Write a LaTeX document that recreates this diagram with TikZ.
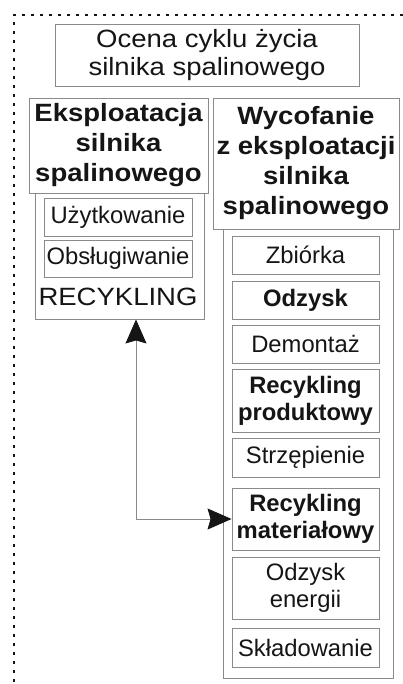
\documentclass[tikz,border=0pt]{standalone}
\usepackage{fontspec}
\setmainfont{Liberation Sans}
\newfontfamily\bigfont[FakeStretch=1.1]{Liberation Sans}
\usetikzlibrary{arrows.meta}
\definecolor{boxline}{HTML}{8A8A8A}
\definecolor{ink}{HTML}{151515}
\tikzset{
  box/.style={draw=boxline, line width=0.9pt, fill=white, inner sep=0pt, align=center, text=ink},
  bigtxt/.style={font=\bigfont\fontsize{25}{28}\selectfont},
  headtxt/.style={font=\bigfont\bfseries\fontsize{25}{30}\selectfont},
  smalltxt/.style={font=\fontsize{23.8}{27}\selectfont},
  smallbold/.style={font=\bfseries\fontsize{23.8}{27}\selectfont},
  frame/.style={draw=ink, line width=2.4pt, dash pattern=on 3pt off 6pt},
  conn/.style={draw=boxline, line width=0.9pt, {Stealth[length=24pt,width=21pt,inset=3pt,fill=ink,color=ink]}-{Stealth[length=24pt,width=21pt,inset=3pt,fill=ink,color=ink]}}
}
\begin{document}
\begin{tikzpicture}[x=1pt,y=-1pt]
\useasboundingbox (0,0) rectangle (403,684);
\coordinate (ftr) at (403,15);
\coordinate (ftl) at (14,15);
\coordinate (fbl) at (14,684);
\draw[frame] (ftr) -- (ftl) -- (fbl);

\node[box, bigtxt, minimum width=304pt, minimum height=62pt] (title) at (207,55) {Ocena cyklu życia\\silnika spalinowego};

% left
\node[box, minimum width=169pt, minimum height=126pt] (lc) at (119.5,256) {};
\node[box, headtxt, minimum width=179pt, minimum height=95pt] (lh) at (118.5,145.5) {Eksploatacja\\silnika\\spalinowego};
\node[box, smalltxt, minimum width=148pt, minimum height=38pt] (uz) at (118,217) {Użytkowanie};
\node[box, smalltxt, minimum width=148pt, minimum height=37pt] (ob) at (118,258.5) {Obsługiwanie};
\node[inner sep=0pt, text=ink, bigtxt] (rec) at (118,297) {RECYKLING};

% right
\node[box, minimum width=170pt, minimum height=449pt] (rc) at (308,453.5) {};
\node[box, headtxt, minimum width=186pt, minimum height=131pt] (rh) at (306,163.5) {Wycofanie\\z eksploatacji\\silnika\\spalinowego};
\node[box, smalltxt, minimum width=147pt, minimum height=38pt] (zb) at (305.5,255) {Zbiórka};
\node[box, smallbold, minimum width=147pt, minimum height=38pt] (od) at (305.5,300) {Odzysk};
\node[box, smalltxt, minimum width=147pt, minimum height=38pt] (de) at (305.5,344) {Demontaż};
\node[box, smallbold, minimum width=147pt, minimum height=63pt] (rp) at (305.5,400.5) {Recykling\\produktowy};
\node[box, smalltxt, minimum width=147pt, minimum height=39pt] (st) at (305.5,457.5) {Strzępienie};
\node[box, smallbold, minimum width=147pt, minimum height=62pt] (rm) at (305.5,519) {Recykling\\materiałowy};
\node[box, smalltxt, minimum width=147pt, minimum height=62pt] (oe) at (305.5,588) {Odzysk\\energii};
\node[box, smalltxt, minimum width=147pt, minimum height=39pt] (sk) at (305.5,647.5) {Składowanie};

\draw[conn] ([xshift=16.5pt]lc.south) |- (rm.west);
\end{tikzpicture}
\end{document}
